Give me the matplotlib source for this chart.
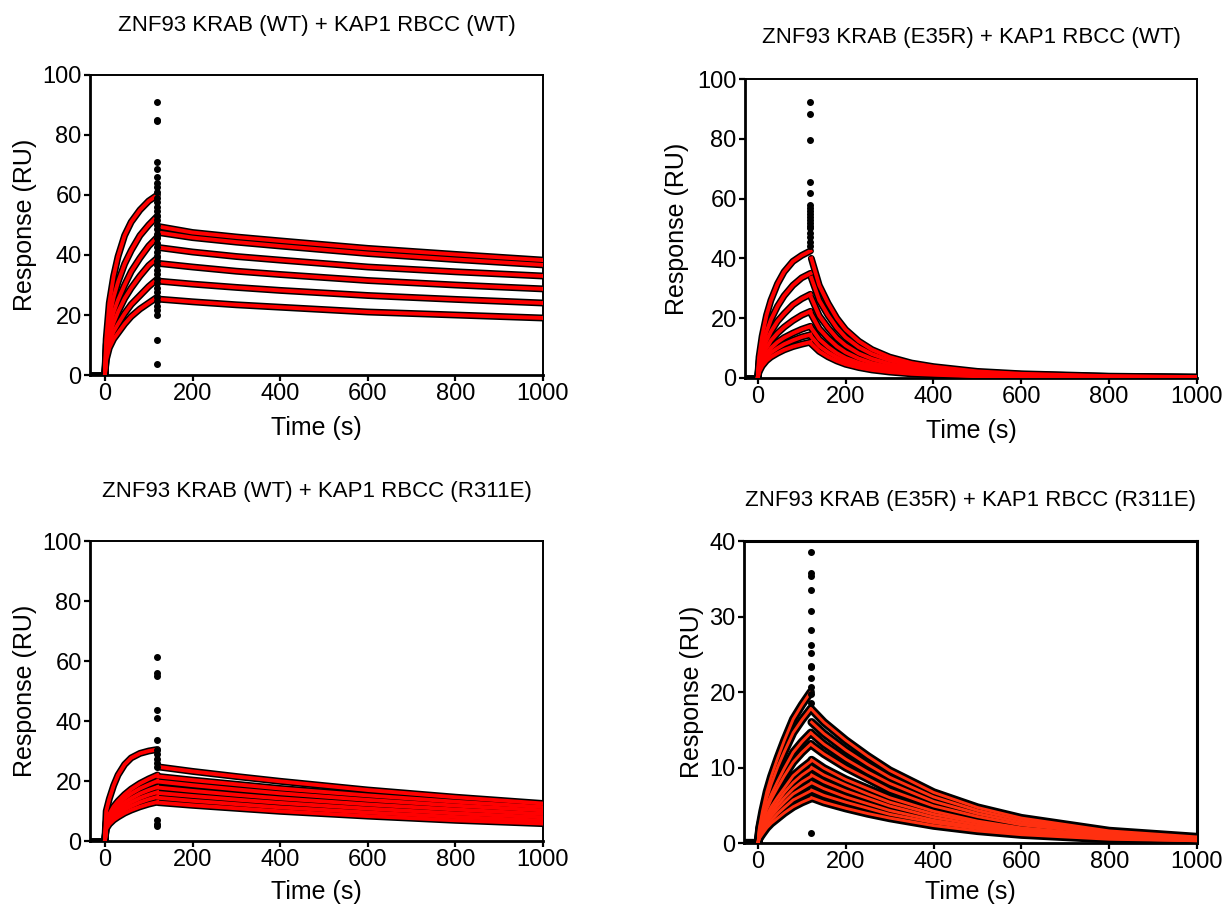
import matplotlib
matplotlib.use("Agg")
import matplotlib.pyplot as plt

plt.rcParams['font.family'] = ['Liberation Sans', 'DejaVu Sans']

# shared association time points (s)
T_ASSOC = [0, 3, 10, 20, 30, 45, 60, 80, 100, 120]
T_BASE = [-33, 0]

# ---- panel 1: ZNF93 KRAB (WT) + KAP1 RBCC (WT)
P1_TITLE = "ZNF93 KRAB (WT) + KAP1 RBCC (WT)"
P1_ASSOC = [
    [0, 12, 24, 33, 39.5, 46.5, 51, 55, 58, 60],
    [0, 10, 19, 26, 31, 37, 41.5, 46.5, 50, 53],
    [0, 8, 15.5, 21, 25, 30, 34.5, 39, 43, 46],
    [0, 7, 13, 17.5, 21, 25.5, 29, 33, 36.5, 39],
    [0, 6, 11, 14.5, 17, 20.5, 23.5, 26.5, 29.5, 32],
    [0, 5, 9, 12, 14, 17, 19.5, 22, 24, 26],
]
P1_T_DISS = [122, 200, 300, 400, 600, 800, 1000]
P1_DISS = [
    [49.5, 47.5, 46, 44.7, 42.2, 40.2, 38.3],
    [47.5, 45.8, 44.3, 43, 40.5, 38.5, 36.7],
    [42.5, 41, 39.5, 38.3, 36, 34.4, 33],
    [37.2, 36, 34.6, 33.5, 31.5, 30, 28.7],
    [31.3, 30.3, 29.2, 28.2, 26.5, 25.2, 24],
    [25.3, 24.4, 23.4, 22.6, 21, 20, 19],
]
P1_SPIKE = [91, 85, 84.5, 71, 68.5, 66, 64, 62.5, 61, 59, 57.5, 56, 54.5, 53, 51.5, 50,
            48.5, 47, 45.5, 44, 42.5, 41, 39.5, 38, 36.5, 35, 33.5, 32, 30.5, 29, 27.5,
            26, 24.5, 23, 21.5, 20, 11.7, 3.6]

# ---- panel 2: ZNF93 KRAB (E35R) + KAP1 RBCC (WT)
P2_TITLE = "ZNF93 KRAB (E35R) + KAP1 RBCC (WT)"
P2_ASSOC = [
    [0, 7, 14, 21, 26, 31.5, 35.5, 39, 41, 42.5],
    [0, 5.5, 10.5, 15.5, 19.5, 24, 27.5, 31, 33.5, 35],
    [0, 4.5, 8.5, 12.5, 15.5, 19, 21.5, 24.5, 26.5, 28],
    [0, 4, 7, 10, 12.5, 15, 17, 19.2, 21, 22.3],
    [0, 3, 5.5, 8, 10, 12, 13.5, 15, 16.3, 17.3],
    [0, 2.5, 4.8, 7, 8.5, 10, 11.3, 12.6, 13.7, 14.5],
    [0, 2, 4, 5.8, 7, 8.3, 9.4, 10.5, 11.3, 12],
]
P2_T_DISS = [122, 140, 160, 180, 200, 230, 260, 300, 350, 400, 500, 600, 800, 1000]
P2_DISS = [
    [40, 31, 25, 20, 16.2, 12.3, 9.5, 7, 5, 3.8, 2.2, 1.4, 0.6, 0.3],
    [33.5, 26, 21, 16.8, 13.6, 10.3, 8, 5.9, 4.2, 3.2, 1.9, 1.2, 0.5, 0.25],
    [26.8, 20.8, 16.8, 13.4, 10.9, 8.2, 6.4, 4.7, 3.4, 2.6, 1.5, 0.95, 0.4, 0.2],
    [21.3, 16.5, 13.3, 10.6, 8.6, 6.5, 5, 3.7, 2.7, 2, 1.2, 0.75, 0.3, 0.15],
    [16.7, 13, 10.4, 8.3, 6.7, 5.1, 4, 2.9, 2.1, 1.6, 0.9, 0.6, 0.25, 0.1],
    [13.8, 10.7, 8.6, 6.9, 5.6, 4.2, 3.3, 2.4, 1.7, 1.3, 0.75, 0.5, 0.2, 0.1],
    [11.4, 8.9, 7.1, 5.7, 4.6, 3.5, 2.7, 2, 1.4, 1.1, 0.6, 0.4, 0.15, 0.1],
]
P2_SPIKE = [92.2, 88.3, 79.6, 65.7, 62, 58, 57, 56, 55, 54, 53, 52, 51, 50, 48.5, 47,
            45.5, 44]

# ---- panel 3: ZNF93 KRAB (WT) + KAP1 RBCC (R311E)
P3_TITLE = "ZNF93 KRAB (WT) + KAP1 RBCC (R311E)"
P3_ASSOC = [
    [0, 10, 14, 18.5, 22, 25.5, 27.7, 29.2, 30, 30.5],
    [0, 6.5, 9, 11.5, 13.3, 15.5, 17.3, 19.2, 20.7, 22],
    [0, 6, 8.3, 10.5, 12.2, 14.2, 15.8, 17.5, 18.8, 20],
    [0, 5.5, 7.6, 9.5, 11, 12.8, 14.2, 15.8, 17, 18],
    [0, 5, 7, 8.7, 10, 11.6, 12.9, 14.3, 15.4, 16.3],
    [0, 4.5, 6.3, 7.8, 9, 10.5, 11.6, 12.9, 13.9, 14.7],
    [0, 4, 5.6, 7, 8, 9.3, 10.3, 11.4, 12.3, 13],
]
P3_T_DISS = [122, 200, 300, 400, 600, 800, 1000]
P3_DISS = [
    [24.7, 23.2, 21.5, 19.9, 17, 14.6, 12.5],
    [21.5, 20.3, 18.9, 17.5, 15.2, 13.1, 11.3],
    [19.8, 18.6, 17.2, 15.9, 13.7, 11.8, 10.2],
    [17.8, 16.7, 15.4, 14.2, 12.2, 10.5, 9.0],
    [16, 15, 13.8, 12.7, 10.8, 9.2, 7.9],
    [14.4, 13.4, 12.3, 11.2, 9.5, 8, 6.8],
    [12.8, 11.9, 10.9, 9.9, 8.3, 6.9, 5.8],
]
P3_SPIKE = [61.3, 56, 55, 43.6, 41.1, 33.8, 30.5, 29, 27.5, 26, 24.7, 6.9, 5.8, 4.9]

# ---- panel 4: ZNF93 KRAB (E35R) + KAP1 RBCC (R311E)
P4_TITLE = "ZNF93 KRAB (E35R) + KAP1 RBCC (R311E)"
P4_ASSOC = [
    [0, 2, 4.2, 6.8, 8.8, 11.3, 13.6, 16.4, 18.3, 20],
    [0, 1.8, 3.7, 6.0, 7.8, 10.1, 12.1, 14.6, 16.3, 17.8],
    [0, 1.5, 3.1, 5.0, 6.4, 8.2, 9.9, 12.0, 13.4, 14.6],
    [0, 1.3, 2.8, 4.5, 5.8, 7.4, 8.9, 10.7, 12.0, 13.1],
    [0, 1.1, 2.3, 3.7, 4.8, 6.1, 7.3, 8.9, 9.9, 10.8],
    [0, 1.0, 2.1, 3.3, 4.3, 5.5, 6.7, 8.0, 9.0, 9.8],
    [0, 0.9, 1.8, 3.0, 3.9, 5.0, 6.0, 7.2, 8.1, 8.8],
    [0, 0.8, 1.7, 2.7, 3.5, 4.5, 5.4, 6.5, 7.2, 7.9],
    [0, 0.7, 1.4, 2.3, 3.0, 3.9, 4.7, 5.7, 6.3, 6.9],
    [0, 0.6, 1.2, 2.0, 2.6, 3.3, 4.0, 4.8, 5.4, 5.9],
]
P4_T_DISS = [122, 150, 200, 250, 300, 400, 500, 600, 800, 1000]
P4_DISS = [
    [17.7, 16.0, 13.6, 11.5, 9.6, 6.7, 4.7, 3.3, 1.6, 0.8],
    [16.0, 14.5, 12.3, 10.4, 8.7, 6.1, 4.3, 3.0, 1.4, 0.7],
    [14.5, 13.1, 11.1, 9.4, 7.9, 5.5, 3.9, 2.7, 1.3, 0.65],
    [13.0, 11.8, 10.0, 8.5, 7.0, 4.9, 3.5, 2.4, 1.2, 0.6],
    [11.0, 9.9, 8.4, 7.2, 6.0, 4.2, 2.9, 2.0, 1.0, 0.5],
    [10.0, 9.0, 7.7, 6.5, 5.4, 3.8, 2.7, 1.9, 0.9, 0.45],
    [9.0, 8.1, 6.9, 5.9, 4.9, 3.4, 2.4, 1.7, 0.8, 0.4],
    [8.0, 7.2, 6.1, 5.2, 4.3, 3.0, 2.1, 1.5, 0.7, 0.35],
    [7.0, 6.3, 5.4, 4.6, 3.8, 2.7, 1.9, 1.3, 0.6, 0.3],
    [6.0, 5.4, 4.6, 3.9, 3.3, 2.3, 1.6, 1.1, 0.5, 0.3],
]
P4_SPIKE = [38.5, 35.7, 35.3, 33.5, 30.7, 28.2, 26.2, 25.2, 23.5, 23.3, 21.8, 20.7,
            19.8, 18.5, 1.3]

T_SPIKE = 120

fig = plt.figure(figsize=(12.23, 9.05), dpi=100)

panels = [
    # rect (px), title, title y (px), assoc, t_diss, diss, spike, ymax, ystep, xmin, red, red lw, black lw, ylabel x, xlabel pad
    ([90, 75, 453, 300], P1_TITLE, 25, P1_ASSOC, P1_T_DISS, P1_DISS, P1_SPIKE, 100, 20, -34, '#ff0000', 2.8, 5.0, -0.117, 7.5),
    ([745, 79, 452, 299], P2_TITLE, 38, P2_ASSOC, P2_T_DISS, P2_DISS, P2_SPIKE, 100, 20, -29, '#ff0000', 2.8, 5.0, -0.124, 7.5),
    ([90, 541, 453, 300], P3_TITLE, 491, P3_ASSOC, P3_T_DISS, P3_DISS, P3_SPIKE, 100, 20, -34, '#ff0000', 2.8, 5.0, -0.117, 6.0),
    ([744, 541, 453, 302], P4_TITLE, 500, P4_ASSOC, P4_T_DISS, P4_DISS, P4_SPIKE, 40, 10, -32, '#ff3010', 2.1, 6.0, -0.088, 4.5),
]

W, H = 1223, 905
for i, (rect, title, ty, assoc, t_diss, diss, spike, ymax, ystep, xmin, red, rlw, blw, ylx, xpad) in enumerate(panels):
    l, t, w, h = rect
    ax = fig.add_axes([l / W, 1 - (t + h) / H, w / W, h / H])

    ax.plot(T_BASE, [0, 0], color='black', lw=blw, solid_capstyle='round', zorder=2)
    for a, d in zip(assoc, diss):
        ax.plot(T_ASSOC, a, color='black', lw=blw, solid_capstyle='round',
                solid_joinstyle='round', zorder=2)
        ax.plot(T_ASSOC, a, color=red, lw=rlw, solid_joinstyle='round', zorder=3)
        ax.plot(t_diss, d, color='black', lw=blw, solid_capstyle='round',
                solid_joinstyle='round', zorder=2)
        ax.plot(t_diss, d, color=red, lw=rlw, solid_joinstyle='round', zorder=3)
    ax.plot([T_SPIKE] * len(spike), spike, 'o', color='black', ms=4, zorder=4)

    ax.set_xlim(xmin, 1000)
    ax.set_ylim(0, ymax)
    ax.set_xticks(range(0, 1001, 200))
    ax.set_yticks(range(0, ymax + 1, ystep))
    ax.tick_params(direction='out', length=4, width=1.6, labelsize=17, pad=2)
    for side in ['left', 'bottom']:
        ax.spines[side].set_linewidth(2.0)
    for side in ['top', 'right']:
        ax.spines[side].set_linewidth(2.2 if i == 3 else 1.4)
    ax.set_xlabel("Time (s)", fontsize=18, labelpad=xpad)
    ax.set_ylabel("Response (RU)", fontsize=18)
    ax.yaxis.set_label_coords(ylx, 0.5)

    fig.text((l + w / 2) / W, 1 - ty / H, title, ha='center', va='center', fontsize=16)

fig.savefig("out.png", dpi=100)
